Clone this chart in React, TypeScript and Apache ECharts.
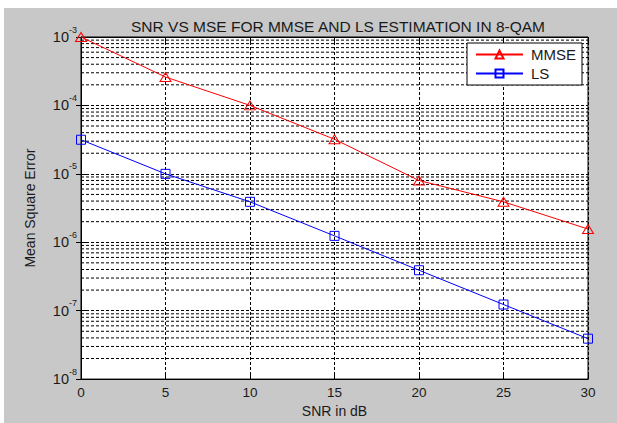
import React, { useEffect, useRef } from "react";
import * as echarts from "echarts";

const snrDb = [0, 5, 10, 15, 20, 25, 30];
const mmseValues = [1.0e-3, 2.6e-4, 1.0e-4, 3.2e-5, 8.0e-6, 3.9e-6, 1.56e-6];
const lsValues = [3.15e-5, 1.0e-5, 3.9e-6, 1.24e-6, 3.9e-7, 1.23e-7, 3.9e-8];
const xTicks = [0, 5, 10, 15, 20, 25, 30];
const yDecades = [-8, -7, -6, -5, -4, -3];
const minorMultipliers = [2, 3, 4, 5, 6, 7, 8, 9];

const FONT = "Liberation Sans, Arial, sans-serif";
const TXT = "#1a1a1a";

export default function App() {
  const ref = useRef<HTMLDivElement>(null);
  useEffect(() => {
    if (!ref.current) return;
    const chart = echarts.init(ref.current, undefined, { renderer: "svg" });
    const gridDash = { color: "#000", width: 1, type: [3, 2] as any };
    const xMin = xTicks[0];
    const xMax = xTicks[xTicks.length - 1];
    const minorSeries: any[] = [];
    yDecades.slice(0, -1).forEach((d) => {
      minorMultipliers.forEach((m) => {
        const v = m * Math.pow(10, d);
        minorSeries.push({
          type: "line",
          silent: true,
          symbol: "none",
          data: [
            [xMin, v],
            [xMax, v],
          ],
          lineStyle: gridDash,
          z: 1,
        });
      });
    });
    const logMin = Math.pow(10, yDecades[0]);
    const logMax = Math.pow(10, yDecades[yDecades.length - 1]);
    chart.setOption({
      animation: false,
      backgroundColor: "#c8c8c8",
      textStyle: { fontFamily: FONT },
      title: {
        text: "SNR VS MSE FOR MMSE AND LS ESTIMATION IN 8-QAM",
        left: 329,
        top: 5,
        textAlign: "center",
        textStyle: { fontFamily: FONT, fontSize: 15.5, fontWeight: "normal", color: TXT },
      },
      grid: { left: 77, top: 29, right: 29, bottom: 37, backgroundColor: "#fff", show: true, borderColor: "#000", borderWidth: 1 },
      legend: {
        orient: "vertical",
        left: 463,
        top: 35,
        padding: [4, 6, 4, 8],
        itemGap: 4,
        itemWidth: 47,
        itemHeight: 10,
        backgroundColor: "#fff",
        borderColor: "#000",
        borderWidth: 1,
        borderRadius: 0,
        textStyle: { fontFamily: FONT, fontSize: 15, color: TXT, padding: [0, 0, 0, 3] },
        data: ["MMSE", "LS"],
      },
      xAxis: [
        {
          type: "value",
          min: xMin,
          max: xMax,
          interval: 5,
          name: "SNR in dB",
          nameLocation: "middle",
          nameGap: 24,
          nameTextStyle: { fontFamily: FONT, fontSize: 14, color: TXT },
          axisLine: { show: true, lineStyle: { color: "#000" } },
          axisTick: { inside: true, length: 5, lineStyle: { color: "#000" } },
          axisLabel: { fontFamily: FONT, fontSize: 13.5, color: TXT, margin: 6 },
          splitLine: { show: true, lineStyle: gridDash },
        },
        {
          type: "value",
          position: "top",
          min: xMin,
          max: xMax,
          interval: 5,
          axisLine: { show: true, lineStyle: { color: "#000" } },
          axisTick: { inside: true, length: 5, lineStyle: { color: "#000" } },
          axisLabel: { show: false },
          splitLine: { show: false },
        },
      ],
      yAxis: [
        {
          type: "log",
          logBase: 10,
          min: logMin,
          max: logMax,
          name: "Mean Square Error",
          nameLocation: "middle",
          nameGap: 44,
          nameTextStyle: { fontFamily: FONT, fontSize: 14, color: TXT },
          axisLine: { show: true, lineStyle: { color: "#000" } },
          axisTick: { inside: true, length: 5, lineStyle: { color: "#000" } },
          axisLabel: {
            margin: 4,
            formatter: (v: number) => `{b|10}{s|${Math.round(Math.log10(v))}}`,
            rich: {
              b: { fontFamily: FONT, fontSize: 14.5, color: TXT, lineHeight: 15, verticalAlign: "middle" },
              s: { fontFamily: FONT, fontSize: 9, color: TXT, lineHeight: 15, padding: [0, 0, 15, 0], verticalAlign: "middle" },
            },
          },
          splitLine: { show: true, lineStyle: gridDash },
        },
        {
          type: "log",
          logBase: 10,
          position: "right",
          min: logMin,
          max: logMax,
          axisLine: { show: true, lineStyle: { color: "#000" } },
          axisTick: { inside: true, length: 5, lineStyle: { color: "#000" } },
          axisLabel: { show: false },
          splitLine: { show: false },
        },
      ],
      series: [
        ...minorSeries,
        {
          name: "MMSE",
          type: "line",
          data: snrDb.map((x, i) => [x, mmseValues[i]]),
          symbol: "triangle",
          symbolSize: [11, 9],
          clip: false,
          lineStyle: { color: "#ff0000", width: 1 },
          itemStyle: { color: "rgba(0,0,0,0)", borderColor: "#ff0000", borderWidth: 1 },
          z: 5,
        },
        {
          name: "LS",
          type: "line",
          data: snrDb.map((x, i) => [x, lsValues[i]]),
          symbol: "rect",
          symbolSize: 9,
          clip: false,
          lineStyle: { color: "#0000ff", width: 1 },
          itemStyle: { color: "rgba(0,0,0,0)", borderColor: "#0000ff", borderWidth: 1 },
          z: 5,
        },
      ],
    });
    return () => chart.dispose();
  }, []);
  return (
    <div
      ref={ref}
      style={{ position: "absolute", left: 4, top: 8, width: 613, height: 415 }}
    />
  );
}
